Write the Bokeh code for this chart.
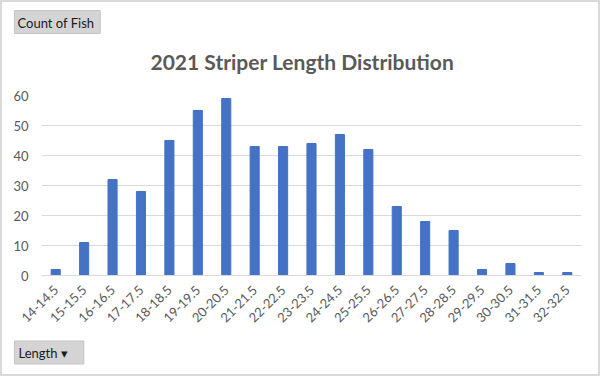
from bokeh.plotting import figure
from bokeh.models import FactorRange, Title, SingleIntervalTicker
from bokeh.embed import file_html
from bokeh.resources import INLINE

categories = ["14-14.5", "15-15.5", "16-16.5", "17-17.5", "18-18.5", "19-19.5",
              "20-20.5", "21-21.5", "22-22.5", "23-23.5", "24-24.5", "25-25.5",
              "26-26.5", "27-27.5", "28-28.5", "29-29.5", "30-30.5", "31-31.5",
              "32-32.5"]
counts = [2, 11, 32, 28, 45, 55, 59, 43, 43, 44, 47, 42, 23, 18, 15, 2, 4, 1, 1]
title_text = "2021 Striper Length Distribution"
value_button = "Count of Fish"
axis_button = "Length    \u25BE"

TXT = "#595959"
FONT = "Lato"

p = figure(width=600, height=376, output_backend="svg", toolbar_location=None,
           x_range=FactorRange(*categories, range_padding=0), y_range=(0, 60),
           min_border_left=39, min_border_right=21, min_border_top=93,
           min_border_bottom=103, title=None)
p.styles = {"border": "2px solid #d9d9d9", "box-sizing": "border-box"}
p.outline_line_color = None
p.background_fill_color = "white"
p.border_fill_color = "white"

p.vbar(x=categories, top=counts, width=0.32, color="#4472C4")

p.yaxis.ticker = SingleIntervalTicker(interval=10)
p.yaxis.axis_line_color = None
p.yaxis.major_tick_line_color = None
p.yaxis.minor_tick_line_color = None
p.yaxis.major_label_standoff = 7
p.yaxis.major_label_text_font = FONT
p.yaxis.major_label_text_font_size = "13px"
p.yaxis.major_label_text_color = TXT

p.xaxis.axis_line_color = "#d9d9d9"
p.xaxis.major_tick_line_color = None
p.xaxis.minor_tick_line_color = None
p.xaxis.major_label_orientation = 0.785398
p.xaxis.major_label_standoff = 6
p.xaxis.major_label_text_font = FONT
p.xaxis.major_label_text_font_size = "13px"
p.xaxis.major_label_text_color = TXT

p.xgrid.grid_line_color = None
p.ygrid.grid_line_color = "#d9d9d9"

spacer = Title(text=" ", text_font_size="1px", standoff=11)
p.add_layout(spacer, "above")

main_title = Title(text=title_text, align="left", offset=109, text_font=FONT,
                   text_font_size="21px", text_font_style="bold",
                   text_color=TXT, standoff=15)
p.add_layout(main_title, "above")

btn_top = Title(text=value_button, align="left", offset=-27, text_font=FONT,
                text_font_size="13px", text_font_style="normal",
                text_color="#1a1a1a", background_fill_color="#d4d4d4",
                border_line_color="#c4c4c4", standoff=12, padding=(3, 6, 4, 3))
p.add_layout(btn_top, "above")

btn_bottom = Title(text=axis_button, align="left", offset=-27, text_font=FONT,
                   text_font_size="13px", text_font_style="normal",
                   text_color="#1a1a1a", background_fill_color="#d4d4d4",
                   border_line_color="#c4c4c4", standoff=19, padding=(4, 6, 4, 3))
p.add_layout(btn_bottom, "below")

open("out.html", "w").write(file_html(p, INLINE))
